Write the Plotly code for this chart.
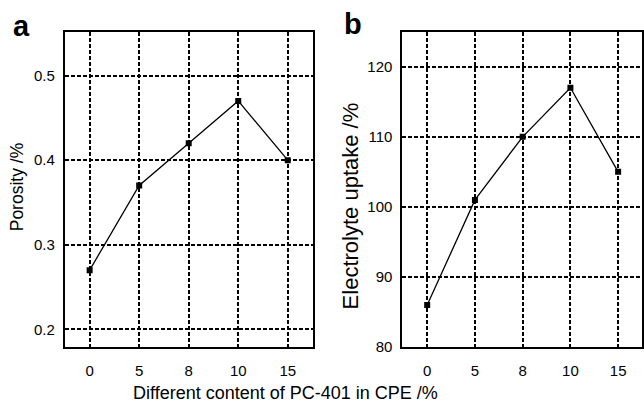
import plotly.graph_objects as go

content = ["0", "5", "8", "10", "15"]
porosity = [0.27, 0.37, 0.42, 0.47, 0.40]
uptake = [86, 101, 110, 117, 105]

W, H = 644, 412
FONT = "Liberation Sans, Arial, sans-serif"

def px_x(p):
    return p / W

def px_y(p):
    return 1 - p / H

fig = go.Figure()
fig.add_trace(go.Scatter(x=content, y=porosity, mode="lines+markers",
                         line=dict(color="black", width=1.3),
                         marker=dict(symbol="square", size=6, color="black"),
                         xaxis="x", yaxis="y", showlegend=False))
fig.add_trace(go.Scatter(x=content, y=uptake, mode="lines+markers",
                         line=dict(color="black", width=1.3),
                         marker=dict(symbol="square", size=6, color="black"),
                         xaxis="x2", yaxis="y2", showlegend=False))

ydom = [px_y(354), px_y(33)]
common_x = dict(type="category", showgrid=True, gridcolor="black", gridwidth=1.5,
                griddash="4px,2px", showline=True, linecolor="black", linewidth=2,
                mirror=True, ticks="", ticklabelstandoff=9,
                tickfont=dict(family=FONT, size=15, color="black"), zeroline=False)
common_y = dict(showgrid=True, gridcolor="black", gridwidth=1.5,
                griddash="4px,2px", showline=True, linecolor="black", linewidth=2,
                mirror=True, ticks="", ticklabelstandoff=5,
                tickfont=dict(family=FONT, size=15, color="black"), zeroline=False)

fig.update_layout(
    width=W, height=H, margin=dict(l=0, r=0, t=0, b=0),
    paper_bgcolor="white", plot_bgcolor="white",
    xaxis=dict(domain=[px_x(65), px_x(313)], anchor="y", range=[-0.5, 4.5], **common_x),
    yaxis=dict(domain=ydom, anchor="x", range=[0.179, 0.551],
               tickvals=[0.2, 0.3, 0.4, 0.5], ticktext=["0.2", "0.3", "0.4", "0.5"], **common_y),
    xaxis2=dict(domain=[px_x(403), px_x(643)], anchor="y2", range=[-0.52, 4.5], **common_x),
    yaxis2=dict(domain=ydom, anchor="x2", range=[80, 124.9],
                tickvals=[80, 90, 100, 110, 120], **common_y),
)

ann = [
    dict(text="<b>a</b>", x=px_x(22), y=px_y(27), font=dict(size=29)),
    dict(text="<b>b</b>", x=px_x(354), y=px_y(24), font=dict(size=29)),
    dict(text="Different content of PC-401 in CPE /%", x=px_x(286), y=px_y(401), font=dict(size=18)),
    dict(text="Porosity /%", x=px_x(17), y=px_y(190), font=dict(size=17.5), textangle=-90),
    dict(text="Electrolyte uptake /%", x=px_x(351), y=px_y(210), font=dict(size=22), textangle=-90),
]
for a in ann:
    f = a.pop("font")
    f.update(family=FONT, color="black")
    fig.add_annotation(xref="paper", yref="paper", showarrow=False,
                       xanchor="center", yanchor="middle", font=f, **a)

fig.write_html("out.html")
